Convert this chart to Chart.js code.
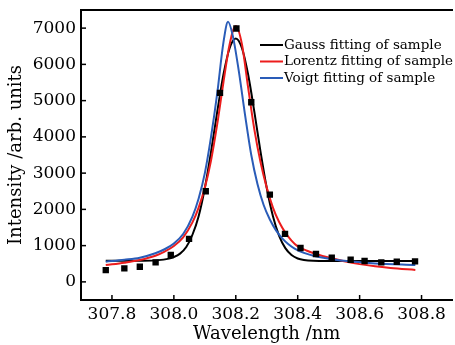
<!DOCTYPE html>
<html><head><meta charset="utf-8">
<script src="https://cdn.jsdelivr.net/npm/chart.js@4"></script>
<style>html,body{margin:0;padding:0;overflow:hidden;background:#fff;width:455px;height:345px}canvas{display:block}</style>
</head><body>
<canvas id="c" width="457" height="345"></canvas>
<script>
// Measured sample points
const sampleX = [307.780, 307.840, 307.890, 307.941, 307.990, 308.049, 308.103, 308.149, 308.202, 308.250, 308.310, 308.359, 308.409, 308.459, 308.510, 308.571, 308.616, 308.670, 308.720, 308.779];
const sampleY = [325, 372, 417, 539, 742, 1186, 2500, 5214, 6990, 4956, 2408, 1325, 935, 769, 667, 610, 575, 539, 556, 567];
// Gauss fit curve
const gaussX = [307.78, 307.90, 307.95, 307.98, 308.00, 308.02, 308.04, 308.06, 308.08, 308.10, 308.12, 308.14, 308.16, 308.18, 308.20, 308.22, 308.24, 308.26, 308.28, 308.30, 308.32, 308.34, 308.36, 308.38, 308.40, 308.42, 308.45, 308.50, 308.78];
const gaussY = [580, 584, 600, 635, 685, 780, 960, 1300, 1810, 2589, 3584, 4689, 5714, 6446, 6715, 6446, 5714, 4689, 3584, 2589, 1810, 1267, 930, 741, 646, 603, 581, 576, 575];
// Lorentz fit curve
const lorentzX = [307.78, 307.84, 307.89, 307.94, 307.97, 308.00, 308.03, 308.06, 308.08, 308.10, 308.12, 308.14, 308.16, 308.18, 308.20, 308.22, 308.24, 308.26, 308.28, 308.30, 308.32, 308.34, 308.36, 308.38, 308.40, 308.43, 308.46, 308.50, 308.55, 308.60, 308.65, 308.70, 308.78];
const lorentzY = [464, 530, 603, 720, 835, 990, 1230, 1640, 2050, 2600, 3350, 4350, 5500, 6550, 7060, 6550, 5350, 4200, 3300, 2600, 2050, 1650, 1360, 1140, 980, 860, 770, 670, 570, 490, 430, 385, 330];
// Voigt fit curve
const voigtX = [307.78, 307.84, 307.89, 307.94, 307.97, 308.00, 308.03, 308.06, 308.08, 308.10, 308.12, 308.14, 308.16, 308.175, 308.19, 308.21, 308.23, 308.25, 308.27, 308.29, 308.31, 308.33, 308.35, 308.37, 308.39, 308.42, 308.46, 308.50, 308.55, 308.65, 308.78];
const voigtY = [556, 610, 667, 790, 900, 1060, 1320, 1800, 2300, 3000, 4000, 5200, 6600, 7175, 6800, 5800, 4600, 3500, 2700, 2120, 1720, 1420, 1200, 1040, 920, 800, 700, 640, 580, 510, 464];

const seriesLabels = ['Gauss fitting of sample', 'Lorentz fitting of sample', 'Voigt fitting of sample'];
const xTickValues = [307.8, 308.0, 308.2, 308.4, 308.6, 308.8];
const yTickValues = [0, 1000, 2000, 3000, 4000, 5000, 6000, 7000];
const xTitle = 'Wavelength /nm';
const yTitle = 'Intensity /arb. units';

const pts = (xs, ys) => xs.map((x, i) => ({x: x, y: ys[i]}));
const FONT = 'DejaVu Serif';

const innerTicks = {
  id: 'innerTicks',
  afterDraw(chart) {
    const {ctx, chartArea} = chart;
    const xs = chart.scales.x, ys = chart.scales.y;
    ctx.save();
    ctx.strokeStyle = '#000';
    ctx.lineWidth = 1.5;
    xs.ticks.forEach(t => {
      const p = xs.getPixelForValue(t.value);
      ctx.beginPath(); ctx.moveTo(p, chartArea.bottom); ctx.lineTo(p, chartArea.bottom - 5); ctx.stroke();
    });
    ys.ticks.forEach(t => {
      const p = ys.getPixelForValue(t.value);
      ctx.beginPath(); ctx.moveTo(chartArea.left, p); ctx.lineTo(chartArea.left + 5, p); ctx.stroke();
    });
    ctx.restore();
  }
};

const innerLegend = {
  id: 'innerLegend',
  afterDraw(chart, args, opts) {
    const {ctx, chartArea} = chart;
    ctx.save();
    ctx.font = opts.fontSize + 'px "' + FONT + '"';
    ctx.textBaseline = 'middle';
    ctx.textAlign = 'left';
    let y = chartArea.top + opts.top;
    const x = chartArea.left + opts.left;
    chart.data.datasets.forEach(ds => {
      if (!ds.inLegend) return;
      ctx.strokeStyle = ds.borderColor;
      ctx.lineWidth = 2;
      ctx.beginPath(); ctx.moveTo(x, y); ctx.lineTo(x + opts.lineLength, y); ctx.stroke();
      ctx.fillStyle = '#000';
      ctx.fillText(ds.label, x + opts.lineLength + 1, y);
      y += opts.rowHeight;
    });
    ctx.restore();
  }
};

const lineDs = (label, xs, ys, color, order) => ({
  type: 'line', label: label, data: pts(xs, ys), borderColor: color, backgroundColor: color,
  borderWidth: 2, pointRadius: 0, fill: false, cubicInterpolationMode: 'monotone', order: order, inLegend: true
});

new Chart(document.getElementById('c'), {
  type: 'scatter',
  data: {
    datasets: [
      {type: 'scatter', label: 'sample', data: pts(sampleX, sampleY), pointStyle: 'rect', pointRadius: 4.5,
       backgroundColor: '#000', borderColor: '#000', borderWidth: 0, order: 0, inLegend: false},
      lineDs(seriesLabels[0], gaussX, gaussY, '#000000', 3),
      lineDs(seriesLabels[1], lorentzX, lorentzY, '#ec1d1d', 2),
      lineDs(seriesLabels[2], voigtX, voigtY, '#2a5cb8', 1)
    ]
  },
  options: {
    responsive: false,
    animation: false,
    layout: {padding: 0},
    plugins: {
      legend: {display: false},
      tooltip: {enabled: false},
      innerLegend: {left: 179, top: 35, rowHeight: 16.5, lineLength: 23, fontSize: 13.5}
    },
    scales: {
      x: {
        type: 'linear', position: 'bottom', min: 307.7, max: 308.9,
        afterBuildTicks: s => { s.ticks = xTickValues.map(v => ({value: v})); },
        afterFit: s => { s.height = 45; s.paddingLeft = 0; s.paddingRight = 0; },
        grid: {display: true, drawOnChartArea: false, drawTicks: false},
        border: {display: true, color: '#000', width: 2},
        ticks: {color: '#000', font: {family: FONT, size: 17}, padding: 4, maxRotation: 0,
                callback: v => Number(v).toFixed(1)},
        title: {display: true, text: xTitle, color: '#000', font: {family: FONT, size: 18}, padding: {top: 0, bottom: 0}}
      },
      x2: {
        type: 'linear', position: 'top', min: 307.7, max: 308.9,
        afterFit: s => { s.height = 10; s.paddingLeft = 0; s.paddingRight = 0; },
        grid: {display: true, drawOnChartArea: false, drawTicks: false},
        border: {display: true, color: '#000', width: 2},
        ticks: {display: false}
      },
      y: {
        type: 'linear', position: 'left', min: -500, max: 7500,
        afterBuildTicks: s => { s.ticks = yTickValues.map(v => ({value: v})); },
        afterFit: s => { s.width = 81; s.paddingTop = 0; s.paddingBottom = 0; },
        grid: {display: true, drawOnChartArea: false, drawTicks: false},
        border: {display: true, color: '#000', width: 2},
        ticks: {color: '#000', font: {family: FONT, size: 17}, padding: 5, callback: v => String(v)},
        title: {display: true, text: yTitle, color: '#000', font: {family: FONT, size: 18}, padding: {top: 6, bottom: 0}}
      }
    }
  },
  plugins: [innerTicks, innerLegend]
});
</script>
</body></html>
